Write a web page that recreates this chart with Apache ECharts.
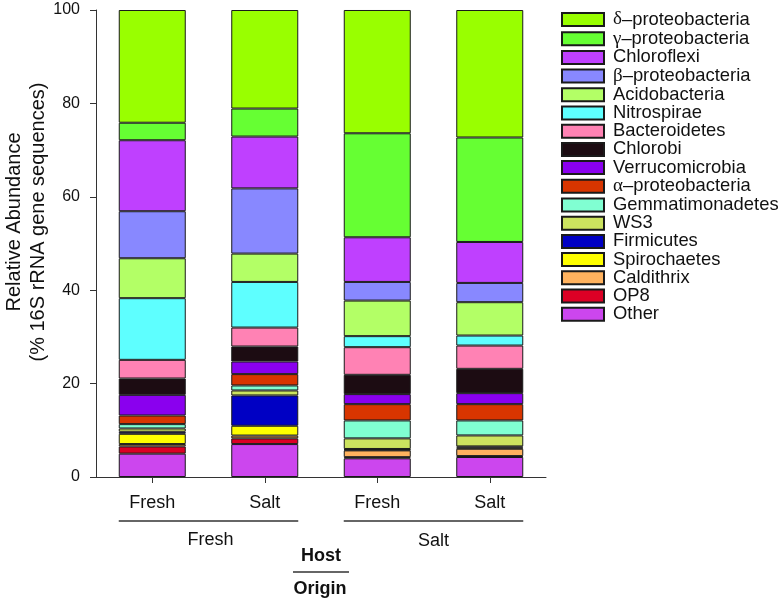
<!DOCTYPE html>
<html><head><meta charset="utf-8">
<script src="https://cdn.jsdelivr.net/npm/echarts@6/dist/echarts.min.js"></script>
<style>html,body{margin:0;padding:0;background:#fff}#c{width:782px;height:602px}</style>
</head><body><div id="c"></div>
<script>
// Categories: host (top row) within origin (bottom row)
const categories = ['Fresh host / Fresh origin', 'Salt host / Fresh origin', 'Fresh host / Salt origin', 'Salt host / Salt origin'];
const hostLabels = ['Fresh', 'Salt', 'Fresh', 'Salt'];
const originLabels = ['Fresh', 'Salt'];
const yTicks = [0, 20, 40, 60, 80, 100];
const yTitle = ['Relative Abundance', '(% 16S rRNA gene sequences)'];

// Relative abundance (%) per taxon, one value per bar (bottom of stack first)
const other           = [5.00, 7.05, 4.00, 4.28];
const op8             = [1.55, 1.22, 0.25, 0.20];
const caldithrix      = [0.50, 0.60, 1.45, 1.57];
const spirochaetes    = [2.20, 2.10, 0.15, 0.25];
const firmicutes      = [0.43, 6.49, 0.15, 0.25];
const ws3             = [0.71, 1.07, 2.27, 2.35];
const gemmatimonadetes= [0.93, 1.07, 3.84, 3.21];
const alphaProteo     = [1.85, 2.43, 3.49, 3.49];
const verrucomicrobia = [4.42, 2.70, 2.15, 2.36];
const chlorobi        = [3.50, 3.21, 4.13, 5.20];
const bacteroidetes   = [4.00, 4.06, 5.92, 4.99];
const nitrospirae     = [13.20, 9.77, 2.36, 2.14];
const acidobacteria   = [8.55, 6.07, 7.62, 7.14];
const betaProteo      = [10.07, 13.96, 3.99, 4.13];
const chloroflexi     = [15.20, 11.10, 9.56, 8.77];
const gammaProteo     = [3.75, 6.00, 22.27, 22.37];
const deltaProteo     = [24.14, 21.10, 26.40, 27.30];

const taxa = [
  ['Other', other, '#cc46ee'],
  ['OP8', op8, '#dc0025'],
  ['Caldithrix', caldithrix, '#ffb25e'],
  ['Spirochaetes', spirochaetes, '#ffff00'],
  ['Firmicutes', firmicutes, '#0000c4'],
  ['WS3', ws3, '#cce35f'],
  ['Gemmatimonadetes', gemmatimonadetes, '#80ffd2'],
  ['α–proteobacteria', alphaProteo, '#d83500'],
  ['Verrucomicrobia', verrucomicrobia, '#8a00ee'],
  ['Chlorobi', chlorobi, '#1c0c12'],
  ['Bacteroidetes', bacteroidetes, '#ff82b4'],
  ['Nitrospirae', nitrospirae, '#5effff'],
  ['Acidobacteria', acidobacteria, '#b3ff66'],
  ['β–proteobacteria', betaProteo, '#8888ff'],
  ['Chloroflexi', chloroflexi, '#bf40ff'],
  ['γ–proteobacteria', gammaProteo, '#66ff33'],
  ['δ–proteobacteria', deltaProteo, '#99ff00']
];

const FONT = 'Liberation Sans, Arial, sans-serif';
const SERIF = 'Liberation Serif, Times New Roman, serif';
const BAR_W = 67;

const chart = echarts.init(document.getElementById('c'), null, {renderer: 'canvas'});

const series = taxa.map(([name, data, color]) => ({
  name, type: 'bar', stack: 'total', data, barWidth: BAR_W,
  itemStyle: {color, borderColor: '#1a1a1a', borderWidth: 1},
  emphasis: {disabled: true}
}));

chart.setOption({
  animation: false,
  textStyle: {fontFamily: FONT, color: '#111'},
  grid: {left: 96, right: 236, top: 10, bottom: 125, containLabel: false, outerBoundsMode: 'none'},
  xAxis: {
    type: 'category', data: categories,
    axisLine: {lineStyle: {color: '#333', width: 1}},
    axisTick: {show: true, alignWithLabel: true, length: 6, lineStyle: {color: '#333'}},
    axisLabel: {formatter: (v, i) => hostLabels[i], fontSize: 18, color: '#111', margin: 17, fontFamily: FONT}
  },
  yAxis: {
    type: 'value', min: yTicks[0], max: yTicks[yTicks.length - 1], interval: 20,
    axisLine: {show: true, lineStyle: {color: '#333', width: 1}},
    axisTick: {show: true, length: 6, lineStyle: {color: '#333'}},
    splitLine: {show: false},
    axisLabel: {fontSize: 16, color: '#111', margin: 16, fontFamily: FONT}
  },
  legend: {
    orient: 'vertical', left: 561, top: 10, padding: 0,
    itemWidth: 42, itemHeight: 13, itemGap: 0.2, icon: 'rect',
    data: taxa.map(t => t[0]).reverse(),
    selectedMode: false,
    formatter: (n) => /^[αβγδ]/.test(n) ? '{s|}{g|' + n[0] + '}{t|' + n.slice(1) + '}' : '{s|}{t|' + n + '}',
    textStyle: {
      fontSize: 18, lineHeight: 13, color: '#111', fontFamily: FONT,
      rich: {
        s: {width: 4, lineHeight: 13},
        g: {fontFamily: SERIF, fontSize: 19, lineHeight: 13, color: '#111'},
        t: {fontFamily: FONT, fontSize: 18.4, lineHeight: 13, color: '#111'}
      }
    }
  },
  series
});

// Grouping annotation below the axis, positioned from the axis scale
const cx = categories.map((c, i) => chart.convertToPixel({xAxisIndex: 0}, i));
const half = BAR_W / 2;
const gLine = (x1, x2, y) => ({type: 'line', shape: {x1, y1: y, x2, y2: y}, style: {stroke: '#333', lineWidth: 1.5}, silent: true});
const gText = (x, y, text, bold) => ({type: 'text', x, y, silent: true,
  style: {text, fontSize: 18, fontFamily: FONT, fontWeight: bold ? 'bold' : 'normal', fill: '#111', align: 'center', verticalAlign: 'middle'}});
const vText = (x, y, text) => ({type: 'text', x, y, rotation: Math.PI / 2, silent: true,
  style: {text, fontSize: 20, fontFamily: FONT, fill: '#111', align: 'center', verticalAlign: 'middle'}});
const mid = (cx[1] + cx[2]) / 2;
chart.setOption({
  graphic: [
    vText(14, 222, yTitle[0]),
    vText(38, 222, yTitle[1]),
    gLine(cx[0] - half, cx[1] + half, 521),
    gLine(cx[2] - half, cx[3] + half, 521),
    gText((cx[0] + cx[1]) / 2 + 2, 540, originLabels[0]),
    gText((cx[2] + cx[3]) / 2, 541, originLabels[1]),
    gText(mid, 556, 'Host', true),
    gLine(mid - 28, mid + 28, 572),
    gText(mid - 1, 589, 'Origin', true)
  ]
});
</script></body></html>
